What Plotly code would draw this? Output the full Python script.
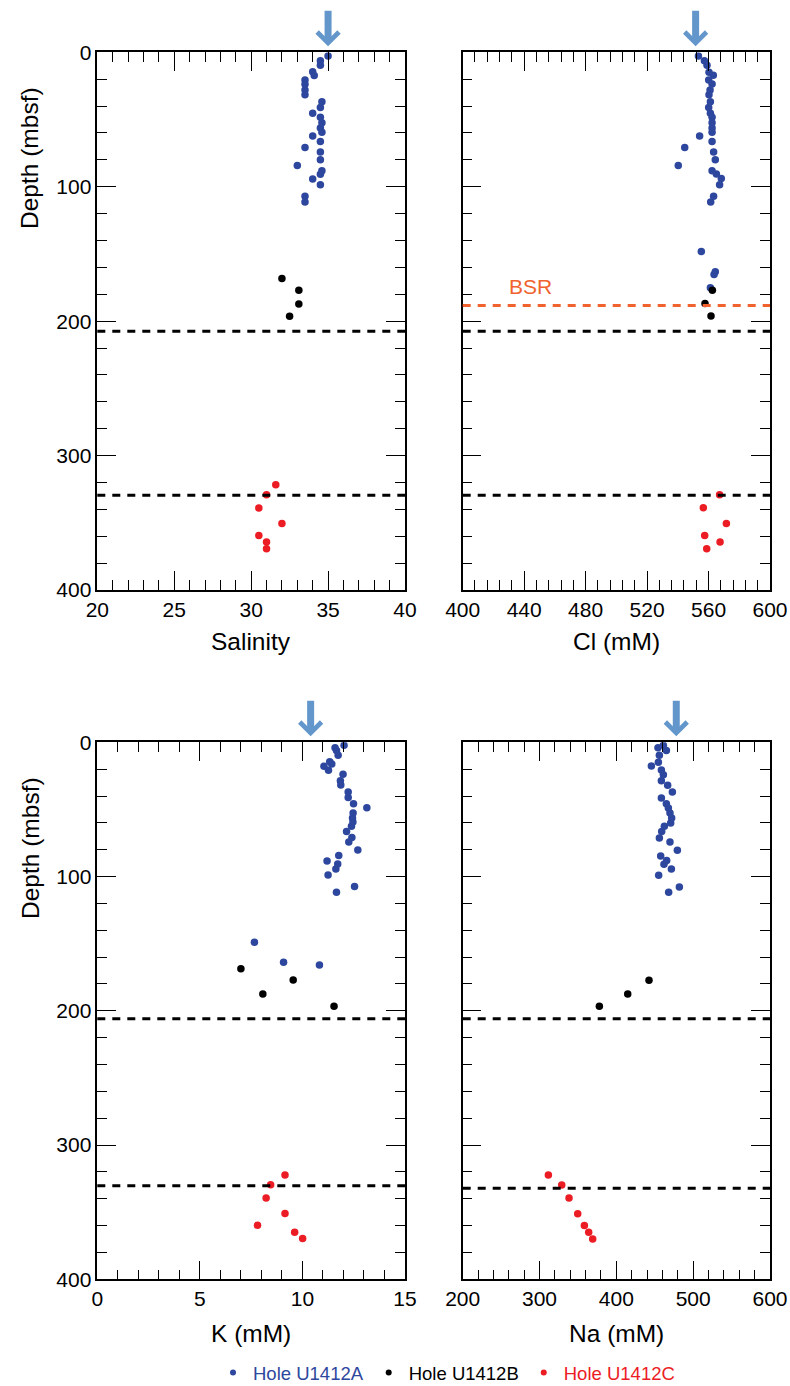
import plotly.graph_objects as go

# ---------------- data ----------------
# Salinity
sal_a_depth = [2.7, 6.2, 9.7, 14.4, 17.3, 20.6, 23.8, 28.0, 31.5, 36.7, 41.1, 45.4, 48.3, 52.5,
               56.3, 59.5, 62.2, 66.4, 70.9, 74.1, 80.0, 84.3, 88.2, 90.7, 94.2, 98.6, 107.1, 111.3]
sal_a = [35.0, 34.5, 34.5, 34.0, 34.1, 33.5, 33.5, 33.5, 33.5, 34.6, 34.5, 34.0, 34.5, 34.6,
         34.5, 34.6, 34.0, 34.5, 33.5, 34.5, 34.5, 33.0, 34.6, 34.5, 34.0, 34.5, 33.5, 33.5]
sal_b_depth = [168.3, 177.0, 187.2, 196.3]
sal_b = [32.0, 33.1, 33.1, 32.5]
sal_c_depth = [321.7, 329.1, 339.0, 350.5, 359.4, 364.3, 369.3]
sal_c = [31.6, 31.0, 30.5, 32.0, 30.5, 31.0, 31.0]

# Chloride (mM)
cl_a_depth = [2.7, 6.2, 9.7, 14.9, 17.1, 20.6, 23.5, 28.0, 31.5, 36.7, 41.1, 45.4, 48.3, 52.5,
              56.3, 59.5, 62.2, 66.4, 70.9, 74.1, 80.0, 84.3, 88.2, 90.5, 93.9, 98.6, 107.1, 111.3,
              148.2, 163.3, 165.3, 175.2]
cl_a = [553.4, 557.3, 559.0, 560.3, 563.1, 560.1, 562.3, 561.0, 560.3, 561.2, 560.1, 561.2, 562.3, 562.3,
        562.3, 562.3, 554.2, 562.3, 544.5, 563.3, 564.4, 540.3, 562.3, 565.1, 568.3, 567.2, 563.3, 561.4,
        555.3, 564.4, 563.6, 561.2]
cl_b_depth = [177.0, 186.9, 196.1]
cl_b = [562.5, 557.7, 561.6]
cl_c_depth = [329.1, 338.8, 350.5, 359.4, 364.3, 369.3]
cl_c = [567.2, 556.6, 571.6, 557.5, 567.5, 558.8]

# Potassium (mM)
k_a_depth = [2.2, 4.0, 6.2, 9.7, 14.4, 16.1, 17.9, 20.9, 23.8, 28.6, 31.8, 37.0, 41.2, 45.7, 48.7,
             52.6, 56.4, 59.3, 62.6, 66.5, 71.0, 74.2, 80.2, 84.4, 88.4, 90.6, 94.3, 98.8, 107.5, 111.7,
             149.0, 163.9, 165.9]
k_a = [12.03, 11.59, 11.66, 11.74, 11.33, 11.43, 11.05, 11.27, 11.98, 11.85, 11.87, 12.23, 12.23, 12.49, 13.14,
       12.47, 12.44, 12.46, 12.39, 12.15, 12.41, 12.26, 12.70, 11.77, 11.20, 11.72, 11.63, 11.25, 12.54, 11.66,
       7.66, 9.08, 10.83]
k_b_depth = [168.6, 177.0, 187.5, 196.7]
k_b = [7.0, 9.55, 8.07, 11.54]
k_c_depth = [322.3, 329.5, 339.4, 350.9, 359.8, 365.0, 369.7]
k_c = [9.15, 8.45, 8.23, 9.15, 7.81, 9.62, 10.01]

# Sodium (mM)
na_a_depth = [2.2, 4.0, 6.2, 9.7, 14.9, 17.6, 20.6, 24.1, 28.6, 32.0, 37.0, 41.5, 45.7, 48.9, 52.6,
              56.4, 60.1, 62.6, 66.5, 71.3, 74.2, 80.4, 84.7, 88.1, 90.9, 94.3, 99.1, 107.7, 111.7]
na_a = [461.2, 454.2, 465.1, 456.0, 454.7, 445.6, 458.6, 461.2, 458.6, 466.8, 472.9, 458.6, 465.1, 467.7, 469.8,
        472.0, 470.7, 462.5, 459.0, 456.0, 469.8, 479.4, 457.7, 465.5, 462.0, 471.6, 455.1, 482.0, 468.1]
na_b_depth = [177.3, 187.5, 196.7]
na_b = [442.5, 414.8, 377.9]
na_c_depth = [322.3, 329.7, 339.4, 351.1, 360.0, 365.0, 369.9]
na_c = [311.5, 328.9, 338.4, 349.7, 358.4, 364.0, 369.2]

# Seawater reference values (arrows) and boundary depths (mbsf)
seawater = {"sal": 35.0, "cl": 551.6, "k": 10.4, "na": 478.0}
bsr_depth = 188.4
top_boundaries = [207.5, 329.5]
k_boundaries = [206.0, 330.3]
na_boundaries = [206.0, 332.2]

hole_names = ["Hole U1412A", "Hole U1412B", "Hole U1412C"]

# ---------------- style ----------------
W, H = 790, 1386
COL_A = "#2E479E"
COL_B = "#000000"
COL_C = "#EC1C24"
ARROW = "#6397CC"
BSR_COL = "#F0622E"
FONT = "Liberation Sans, Arial, Helvetica, sans-serif"


def fx(p):
    return p / W


def fy(p):
    return 1 - p / H


dom_x_left = [fx(97.3), fx(405.0)]
dom_x_right = [fx(462.7), fx(770.0)]
dom_y_top = [fy(590.0), fy(52.3)]
dom_y_bot = [fy(1279.3), fy(742.3)]


def x_axis(rng, dtick, mdtick, domain, anchor):
    return dict(
        range=rng, domain=domain, anchor=anchor, tick0=rng[0], dtick=dtick,
        ticks="inside", ticklen=19, tickwidth=1.2, tickcolor="black",
        minor=dict(tick0=rng[0], dtick=mdtick, ticks="inside", ticklen=10,
                   tickwidth=1.2, tickcolor="black", showgrid=False),
        showline=True, linecolor="black", linewidth=1.5, mirror="ticks",
        showgrid=False, zeroline=False, fixedrange=True, automargin=False,
        tickfont=dict(size=21, color="black", family=FONT),
    )


def y_axis(domain, anchor, labels):
    return dict(
        range=[400, 0], domain=domain, anchor=anchor, tick0=0, dtick=100,
        ticks="inside", ticklen=19, tickwidth=1.2, tickcolor="black",
        minor=dict(tick0=0, dtick=20, ticks="inside", ticklen=10,
                   tickwidth=1.2, tickcolor="black", showgrid=False),
        showline=True, linecolor="black", linewidth=1.5, mirror="ticks",
        showgrid=False, zeroline=False, fixedrange=True, showticklabels=labels,
        automargin=False, tickfont=dict(size=21, color="black", family=FONT),
    )


fig = go.Figure()

panels = [
    ("x", "y", (sal_a, sal_a_depth), (sal_b, sal_b_depth), (sal_c, sal_c_depth)),
    ("x2", "y2", (cl_a, cl_a_depth), (cl_b, cl_b_depth), (cl_c, cl_c_depth)),
    ("x3", "y3", (k_a, k_a_depth), (k_b, k_b_depth), (k_c, k_c_depth)),
    ("x4", "y4", (na_a, na_a_depth), (na_b, na_b_depth), (na_c, na_c_depth)),
]
for xa, ya, a, b, c in panels:
    for (vals, dep), col in ((a, COL_A), (b, COL_B), (c, COL_C)):
        fig.add_trace(go.Scatter(
            x=vals, y=dep, mode="markers", xaxis=xa, yaxis=ya,
            marker=dict(size=7.5, color=col, line=dict(width=0)),
            showlegend=False, hoverinfo="x+y",
        ))

# legend-only entries
for name, col in zip(hole_names, (COL_A, COL_B, COL_C)):
    fig.add_trace(go.Scatter(
        x=[None], y=[None], mode="markers", marker=dict(size=6, color=col),
        name=f"<span style='color:{col}'>{name}</span>", showlegend=True,
    ))

shapes = []


def hline(depth, xref, yref, color="black"):
    shapes.append(dict(
        type="line", xref=f"{xref} domain", yref=yref, x0=0, x1=1, y0=depth, y1=depth,
        line=dict(color=color, width=3, dash="8px,7px"), layer="above",
    ))


for d in top_boundaries:
    hline(d, "x", "y")
    hline(d, "x2", "y2")
hline(bsr_depth, "x2", "y2", BSR_COL)
for d in k_boundaries:
    hline(d, "x3", "y3")
for d in na_boundaries:
    hline(d, "x4", "y4")

annotations = []

# seawater arrows at the top of each panel
for key, xa, ya in (("sal", "x", "y"), ("cl", "x2", "y2"), ("k", "x3", "y3"), ("na", "x4", "y4")):
    annotations.append(dict(
        x=seawater[key], y=0, xref=xa, yref=ya, text="", showarrow=True,
        ax=0, ay=-43, arrowhead=4, arrowsize=0.6, arrowwidth=7,
        arrowcolor=ARROW, standoff=6,
    ))

annotations.append(dict(
    x=444.2, y=174.3, xref="x2", yref="y2", text="BSR", showarrow=False,
    font=dict(size=21, color=BSR_COL, family=FONT),
))

# axis titles
title_font = dict(size=24.5, color="black", family=FONT)
for text, xc, yc in (
    ("Salinity", 251.2, 641), ("Cl (mM)", 616.4, 641),
    ("K (mM)", 251.2, 1333), ("Na (mM)", 616.4, 1333),
):
    annotations.append(dict(x=fx(xc), y=fy(yc), xref="paper", yref="paper", text=text,
                            showarrow=False, xanchor="center", yanchor="middle", font=title_font))
for yc in (158, 848):
    annotations.append(dict(x=fx(30), y=fy(yc), xref="paper", yref="paper", text="Depth (mbsf)",
                            textangle=-90, showarrow=False, xanchor="center", yanchor="middle",
                            font=title_font))

fig.update_layout(
    width=W, height=H,
    margin=dict(l=0, r=0, t=0, b=0, autoexpand=False),
    paper_bgcolor="white", plot_bgcolor="white",
    font=dict(family=FONT, color="black"),
    xaxis=x_axis([20, 40], 5, 1, dom_x_left, "y"),
    yaxis=y_axis(dom_y_top, "x", True),
    xaxis2=x_axis([400, 600], 40, 8, dom_x_right, "y2"),
    yaxis2=y_axis(dom_y_top, "x2", False),
    xaxis3=x_axis([0, 15], 5, 1, dom_x_left, "y3"),
    yaxis3=y_axis(dom_y_bot, "x3", True),
    xaxis4=x_axis([200, 600], 100, 20, dom_x_right, "y4"),
    yaxis4=y_axis(dom_y_bot, "x4", False),
    shapes=shapes,
    annotations=annotations,
    showlegend=True,
    legend=dict(orientation="h", x=fx(213), y=fy(1373), xanchor="left", yanchor="middle",
                font=dict(size=18.5, family=FONT), bgcolor="rgba(0,0,0,0)", borderwidth=0,
                itemclick=False, itemdoubleclick=False),
)

fig.write_html("out.html")
